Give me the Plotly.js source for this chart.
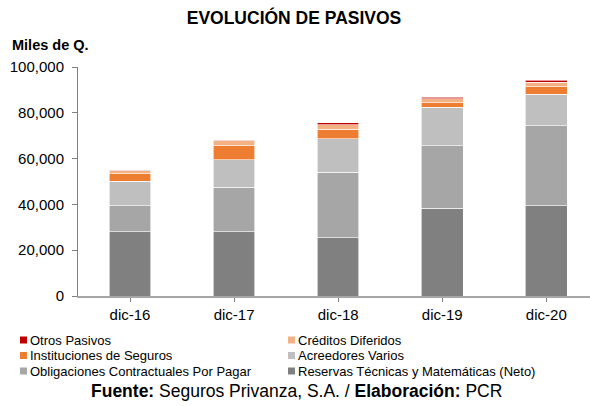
<!DOCTYPE html>
<html>
<head>
<meta charset="utf-8">
<script src="https://cdn.plot.ly/plotly-3.0.1.min.js"></script>
<style>
  html, body { margin: 0; padding: 0; background: #fff; }
  #chart { width: 590px; height: 406px; }
</style>
</head>
<body>
<div id="chart"></div>
<script>
// categorias (eje x)
var periodos = ['dic-16', 'dic-17', 'dic-18', 'dic-19', 'dic-20'];

// valores en miles de Q.
var reservasTecnicas = [28100, 28100, 25500, 38300, 39400];
var obligacionesContractuales = [11300, 19400, 28500, 27300, 35000];
var acreedoresVarios = [10800, 11900, 14600, 16900, 13600];
var institucionesSeguros = [3100, 6200, 4200, 1900, 3400];
var creditosDiferidos = [1300, 2100, 1900, 1800, 2000];
var otrosPasivos = [400, 400, 1000, 600, 800];

// etiquetas del eje y
var ejeYValores = [0, 20000, 40000, 60000, 80000, 100000];
var ejeYTextos = ['0', '20,000', '40,000', '60,000', '80,000', '100,000'];

var nombres = [
  'Reservas Técnicas y Matemáticas (Neto)',
  'Obligaciones Contractuales Por Pagar',
  'Acreedores Varios',
  'Instituciones de Seguros',
  'Créditos Diferidos',
  'Otros Pasivos'
];
var colores = ['#808080', '#a6a6a6', '#bfbfbf', '#ed7d31', '#f4b183', '#c00000'];
var series = [reservasTecnicas, obligacionesContractuales, acreedoresVarios,
              institucionesSeguros, creditosDiferidos, otrosPasivos];

var FONT = 'Arial, "Liberation Sans", sans-serif';

// area del grafico en pixeles
var L = 78, T = 67, W = 512, H = 229;
function px(x) { return (x - L) / W; }
function py(y) { return 1 - (y - T) / H; }

var trazas = series.map(function (vals, i) {
  return {
    type: 'bar',
    name: nombres[i],
    x: periodos,
    y: vals,
    marker: { color: colores[i], line: { color: '#ffffff', width: 0.6 } },
    hoverinfo: 'x+y+name'
  };
});

// leyenda a dos columnas (orden de arriba hacia abajo, izquierda a derecha)
var ordenLeyenda = [5, 4, 3, 2, 1, 0];
var leyendaShapes = [];
var leyendaTextos = [];
ordenLeyenda.forEach(function (idx, k) {
  var col = k % 2, fila = Math.floor(k / 2);
  var x0 = col === 0 ? 20 : 288;
  var yc = 340 + fila * 15.5;
  leyendaShapes.push({
    type: 'rect', xref: 'paper', yref: 'paper',
    x0: px(x0), x1: px(x0 + 7), y0: py(yc + 3.5), y1: py(yc - 3.5),
    fillcolor: colores[idx], line: { width: 0 }
  });
  leyendaTextos.push({
    text: nombres[idx],
    xref: 'paper', yref: 'paper',
    x: px(x0 + 8), xanchor: 'left',
    y: py(yc), yanchor: 'middle',
    showarrow: false,
    font: { family: FONT, size: 13, color: '#000000' }
  });
});

var layout = {
  width: 590,
  height: 406,
  margin: { l: L, r: 0, t: T, b: 406 - T - H },
  paper_bgcolor: '#ffffff',
  plot_bgcolor: '#ffffff',
  font: { family: FONT, size: 15, color: '#000000' },
  barmode: 'stack',
  bargap: 0.6,
  showlegend: false,
  title: {
    text: '<b>EVOLUCIÓN DE PASIVOS</b>',
    font: { family: FONT, size: 17.5, color: '#000000' },
    x: px(294), xref: 'paper', xanchor: 'center',
    y: 1 - 18 / 406, yref: 'container', yanchor: 'middle'
  },
  xaxis: {
    type: 'category',
    range: [-0.5, 4.42],
    showline: true, linecolor: '#a6a6a6', linewidth: 1.5,
    ticks: 'outside', ticklen: 4, tickcolor: '#808080',
    showgrid: false, zeroline: false,
    tickfont: { family: FONT, size: 15, color: '#000000' }
  },
  yaxis: {
    range: [0, 100000],
    tickvals: ejeYValores,
    ticktext: ejeYTextos,
    showline: true, linecolor: '#808080', linewidth: 1,
    ticks: 'outside', ticklen: 5, tickcolor: '#808080',
    ticklabelstandoff: 5,
    showgrid: false, zeroline: false,
    tickfont: { family: FONT, size: 15, color: '#000000' }
  },
  shapes: leyendaShapes,
  annotations: [
    {
      text: '<b>Miles de Q.</b>',
      xref: 'paper', yref: 'paper',
      x: px(10), xanchor: 'left',
      y: py(45), yanchor: 'middle',
      showarrow: false,
      font: { family: FONT, size: 14.5, color: '#000000' }
    },
    {
      text: '<b>Fuente:</b> Seguros Privanza, S.A. / <b>Elaboración:</b> PCR',
      xref: 'paper', yref: 'paper',
      x: px(296), xanchor: 'center',
      y: py(391), yanchor: 'middle',
      showarrow: false,
      font: { family: FONT, size: 17.5, color: '#000000' }
    }
  ].concat(leyendaTextos)
};

Plotly.newPlot('chart', trazas, layout, { displayModeBar: false, staticPlot: true });
</script>
</body>
</html>
